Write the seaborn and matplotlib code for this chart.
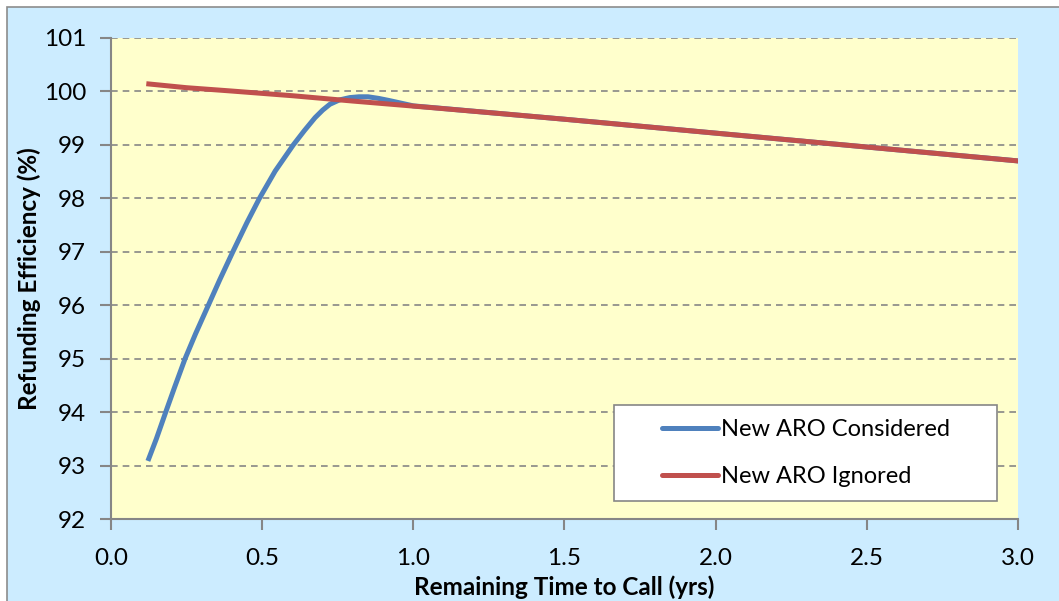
import pandas as pd
import numpy as np
import matplotlib
matplotlib.use("Agg")
import matplotlib.pyplot as plt
from matplotlib.patches import Rectangle
from matplotlib.lines import Line2D
import seaborn as sns

# dados
t_considered = [0.125, 0.15, 0.181, 0.21, 0.245, 0.28, 0.322, 0.36, 0.403, 0.45, 0.491, 0.543,
                0.603, 0.64, 0.675, 0.70, 0.724, 0.755, 0.79, 0.82, 0.85, 0.885, 0.92, 0.96,
                1.0, 1.3, 1.5, 2.0, 2.5, 3.0]
eff_considered = [93.13, 93.50, 94.0, 94.46, 95.0, 95.47, 96.0, 96.48, 97.0, 97.55, 98.0, 98.51,
                  99.0, 99.27, 99.51, 99.65, 99.76, 99.84, 99.885, 99.9, 99.9, 99.87, 99.83, 99.78,
                  99.73, 99.58, 99.48, 99.22, 98.96, 98.70]

t_ignored = [0.125, 0.25, 0.394, 0.60, 0.80, 1.055, 1.3, 1.5, 2.0, 2.5, 3.0]
eff_ignored = [100.14, 100.07, 100.01, 99.92, 99.82, 99.70, 99.58, 99.48, 99.22, 98.96, 98.70]

series_names = ["New ARO Considered", "New ARO Ignored"]
cores = ["#4F81BD", "#C0504D"]

df = pd.concat([
    pd.DataFrame({"t": t_considered, "eff": eff_considered, "serie": series_names[0]}),
    pd.DataFrame({"t": t_ignored, "eff": eff_ignored, "serie": series_names[1]}),
])

plt.rcParams['font.family'] = ['Lato', 'DejaVu Sans']

fig = plt.figure(figsize=(10.59, 6.01), dpi=100, facecolor="white")
fig.patches.append(Rectangle((7 / 1059, -0.1), 1.2, 1.1 - 7 / 601,
                             transform=fig.transFigure, facecolor="#CCECFF",
                             edgecolor="#8C8C8C", linewidth=1.2, zorder=-1))
ax = fig.add_axes([111 / 1059, 1 - 519 / 601, (1018 - 111) / 1059, (519 - 38) / 601])
ax.set_facecolor("#FFFFCC")

sns.lineplot(data=df, x="t", y="eff", hue="serie", palette=cores, sort=False,
             linewidth=3.6, ax=ax, estimator=None, legend=False)

ax.set_xlim(0, 3)
ax.set_ylim(92, 101)
ax.set_xticks(np.arange(0, 3.01, 0.5))
ax.set_xticklabels([f"{v:.1f}" for v in np.arange(0, 3.01, 0.5)])
ax.set_yticks(range(92, 102))

ax.grid(axis="y", color="#868686", linestyle=(0, (4, 3)), linewidth=1.2)
ax.set_axisbelow(True)
for s in ["top", "right"]:
    ax.spines[s].set_visible(False)
for s in ["left", "bottom"]:
    ax.spines[s].set_color("#868686")
    ax.spines[s].set_linewidth(1.5)

ax.tick_params(axis="y", direction="out", length=8, width=1.5, color="#868686",
               labelsize=17.5, pad=10)
ax.tick_params(axis="x", direction="out", length=8, width=1.5, color="#868686",
               labelsize=17.5, pad=13)

ax.set_xlabel("Remaining Time to Call (yrs)", fontsize=17.5, fontweight="bold")
ax.set_ylabel("Refunding Efficiency (%)", fontsize=17.5, fontweight="bold")
ax.xaxis.set_label_coords(0.5, -0.118)
ax.yaxis.set_label_coords(-0.077, 0.5)

# caixa da legenda
ax.add_patch(Rectangle((0.5546, 0.0374), 0.4223, 0.1996, transform=ax.transAxes,
                       facecolor="white", edgecolor="#868686", linewidth=1.2, zorder=5))
handles = [Line2D([], [], color=c, linewidth=3.6, solid_capstyle="round") for c in cores]
leg = ax.legend(handles, series_names, loc="center", bbox_to_anchor=(0.7658, 0.1372),
                fontsize=17, frameon=False, handlelength=2.4, handletextpad=0.1,
                labelspacing=1.1, borderpad=0)
leg.set_zorder(6)

fig.savefig("out.png", dpi=100, facecolor=fig.get_facecolor())
